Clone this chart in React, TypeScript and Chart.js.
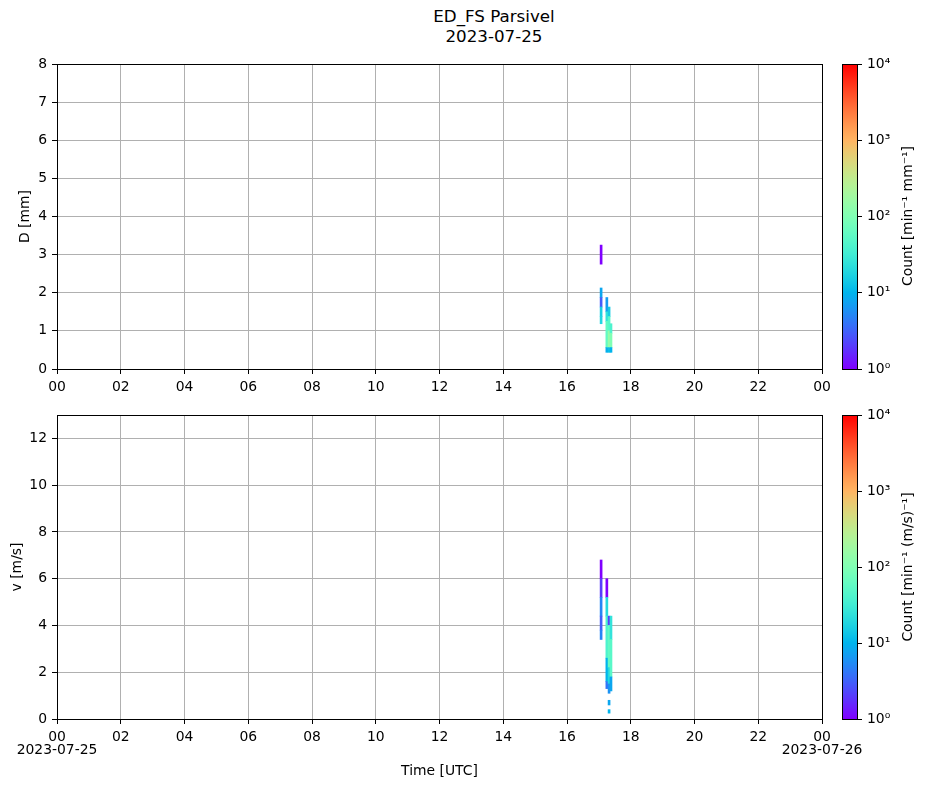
import React, { useEffect, useRef } from "react";
import { Chart, registerables } from "chart.js";

Chart.register(...registerables);

// ---- tick labels / titles ----
const xTickLabels = ["00", "02", "04", "06", "08", "10", "12", "14", "16", "18", "20", "22", "00"];
const dateLabels = ["2023-07-25", "2023-07-26"];
const suptitleLines = ["ED_FS Parsivel", "2023-07-25"];
const colorbarTicks = [1, 10, 100, 1000, 10000];

// ---- diameter panel cells (time [h UTC], bin low, bin high [mm], count) ----
const dTimes = [17.07, 17.07, 17.07, 17.07, 17.07, 17.25, 17.25, 17.25, 17.25, 17.32, 17.32, 17.32, 17.32, 17.38, 17.38, 17.38];
const dLow = [2.75, 1.875, 1.625, 1.375, 1.1875, 1.5, 1.25, 0.5625, 0.4375, 1.375, 1.0, 0.5625, 0.4375, 0.9375, 0.5625, 0.4375];
const dHigh = [3.25, 2.125, 1.875, 1.625, 1.375, 1.875, 1.5, 1.25, 0.5625, 1.625, 1.375, 1.0, 0.5625, 1.1875, 0.9375, 0.5625];
const dCounts = [1, 8, 3, 16, 18, 7, 25, 60, 9, 15, 50, 150, 12, 40, 100, 10];

// ---- velocity panel cells (time [h UTC], bin low, bin high [m/s], count) ----
const vTimes = [17.07, 17.07, 17.07, 17.07, 17.07, 17.25, 17.25, 17.25, 17.25, 17.25, 17.32, 17.32, 17.32, 17.32, 17.32, 17.32, 17.38, 17.38, 17.38];
const vLow = [6.0, 5.2, 4.4, 3.8, 3.4, 5.2, 4.4, 2.6, 1.6, 1.3, 4.0, 2.2, 1.5, 1.1, 0.6, 0.25, 3.4, 1.8, 1.2];
const vHigh = [6.8, 6.0, 5.2, 4.4, 3.8, 6.0, 5.2, 4.4, 2.6, 1.6, 4.4, 4.0, 2.2, 1.5, 0.8, 0.4, 4.4, 3.4, 1.8];
const vCounts = [1, 2, 5, 3, 5, 1, 20, 40, 10, 4, 2, 60, 20, 6, 8, 10, 25, 50, 8];

const FONT = "'DejaVu Sans', sans-serif";
const TICK_PX = 13.9;

function rainbow(x: number): string {
  const t = Math.min(1, Math.max(0, x));
  const r = Math.min(1, Math.abs(2 * t - 0.5));
  const g = Math.max(0, Math.sin(Math.PI * t));
  const b = Math.max(0, Math.cos((Math.PI / 2) * t));
  return `rgb(${Math.round(r * 255)},${Math.round(g * 255)},${Math.round(b * 255)})`;
}

function countColor(n: number): string {
  return rainbow(Math.log10(n) / 4);
}

const framePlugin = {
  id: "frame",
  afterDraw(chart: any) {
    const { ctx, chartArea: a } = chart;
    if (!a) return;
    ctx.save();
    ctx.strokeStyle = "#000";
    ctx.lineWidth = 1;
    const l = Math.round(a.left) + 0.5;
    const t = Math.round(a.top) + 0.5;
    const w = Math.round(a.right) - Math.round(a.left);
    const h = Math.round(a.bottom) - Math.round(a.top);
    ctx.strokeRect(l, t, w, h);
    ctx.restore();
  },
};

type PanelProps = {
  times: number[];
  low: number[];
  high: number[];
  counts: number[];
  yMax: number;
  yStep: number;
  yTitle: string;
  yTitlePad: number;
  bottom: boolean;
  width: number;
  height: number;
  xAxisHeight: number;
  padRight: number;
};

function Panel(p: PanelProps) {
  const ref = useRef<HTMLCanvasElement | null>(null);
  useEffect(() => {
    if (!ref.current) return;
    const chart = new Chart(ref.current, {
      type: "bar",
      data: {
        datasets: [
          {
            data: p.times.map((t, i) => ({ x: t, y: [p.low[i], p.high[i]] })) as any,
            backgroundColor: p.counts.map(countColor),
            borderWidth: 0,
            barThickness: 2,
            grouped: false,
          } as any,
        ],
      },
      options: {
        responsive: false,
        animation: false,
        events: [],
        layout: { padding: { top: 20, right: p.padRight, left: 0, bottom: 0 } },
        plugins: { legend: { display: false }, tooltip: { enabled: false }, title: { display: false } },
        scales: {
          x: {
            type: "linear",
            min: 0,
            max: 24,
            offset: false,
            z: 1,
            grid: { offset: false, color: "#b0b0b0", lineWidth: 1, tickLength: 5, tickColor: "#000", tickWidth: 1 },
            border: { display: false },
            ticks: {
              stepSize: 2,
              autoSkip: false,
              maxRotation: 0,
              padding: 6,
              color: "#000",
              font: { family: FONT, size: TICK_PX, lineHeight: 1.0 },
              callback: (value: any) => {
                const h = Number(value);
                const label = xTickLabels[Math.round(h / 2)];
                if (p.bottom && h === 0) return [label, dateLabels[0]];
                if (p.bottom && h === 24) return [label, dateLabels[1]];
                return label;
              },
            },
            title: {
              display: p.bottom,
              text: "Time [UTC]",
              color: "#000",
              font: { family: FONT, size: TICK_PX },
              padding: { top: 0, bottom: 8.7 },
            },
            afterFit: (scale: any) => {
              scale.height = p.xAxisHeight;
            },
          } as any,
          y: {
            type: "linear",
            min: 0,
            max: p.yMax,
            z: 1,
            grid: { color: "#b0b0b0", lineWidth: 1, tickLength: 5, tickColor: "#000", tickWidth: 1 },
            border: { display: false },
            ticks: {
              stepSize: p.yStep,
              includeBounds: false,
              padding: 5,
              color: "#000",
              font: { family: FONT, size: TICK_PX },
            },
            title: {
              display: true,
              text: p.yTitle,
              color: "#000",
              font: { family: FONT, size: TICK_PX },
              padding: { top: p.yTitlePad, bottom: 0 },
            },
            afterFit: (scale: any) => {
              scale.width = 57;
            },
          } as any,
        },
      },
      plugins: [framePlugin],
    });
    return () => chart.destroy();
  }, []);
  return <canvas ref={ref} width={p.width} height={p.height} style={{ width: p.width, height: p.height, display: "block" }} />;
}

const SUP: Record<number, string> = { 0: "\u2070", 1: "\u00b9", 2: "\u00b2", 3: "\u00b3", 4: "\u2074" };

function Colorbar({ width, height }: { width: number; height: number }) {
  const ref = useRef<HTMLCanvasElement | null>(null);
  useEffect(() => {
    if (!ref.current) return;
    const chart = new Chart(ref.current, {
      type: "bar",
      data: {
        labels: [""],
        datasets: [
          {
            data: [[colorbarTicks[0], colorbarTicks[colorbarTicks.length - 1]]] as any,
            backgroundColor: (c: any) => {
              const ch = c.chart;
              const a = ch.chartArea;
              if (!a) return "rgba(0,0,0,0)";
              const g = ch.ctx.createLinearGradient(0, a.bottom, 0, a.top);
              for (let i = 0; i <= 40; i++) g.addColorStop(i / 40, rainbow(i / 40));
              return g;
            },
            borderWidth: 0,
            barPercentage: 1,
            categoryPercentage: 1,
            inflateAmount: 0,
          } as any,
        ],
      },
      options: {
        responsive: false,
        animation: false,
        events: [],
        layout: { padding: { top: 20, bottom: 20, left: 0, right: 0 } },
        plugins: { legend: { display: false }, tooltip: { enabled: false } },
        scales: {
          x: { display: false },
          y: {
            type: "logarithmic",
            position: "right",
            min: colorbarTicks[0],
            max: colorbarTicks[colorbarTicks.length - 1],
            grid: { display: true, drawOnChartArea: false, tickLength: 5, tickColor: "#000", tickWidth: 1 },
            border: { display: false },
            afterBuildTicks: (scale: any) => {
              scale.ticks = colorbarTicks.map((v) => ({ value: v }));
            },
            ticks: {
              padding: 5,
              color: "#000",
              font: { family: FONT, size: TICK_PX },
              callback: (v: any) => "10" + SUP[Math.round(Math.log10(Number(v)))],
            },
            afterFit: (scale: any) => {
              scale.width = 60;
            },
          } as any,
        },
      },
      plugins: [framePlugin],
    });
    return () => chart.destroy();
  }, []);
  return <canvas ref={ref} width={width} height={height} style={{ width, height, display: "block" }} />;
}

const textStyle: React.CSSProperties = {
  position: "absolute",
  fontFamily: FONT,
  color: "#000",
  whiteSpace: "nowrap",
};

export default function App() {
  return (
    <div style={{ position: "absolute", left: 0, top: 0, width: 927, height: 788, background: "#fff", overflow: "hidden" }}>
      <div
        style={{
          ...textStyle,
          left: 494,
          top: 6,
          transform: "translateX(-50%)",
          fontSize: 16.7,
          lineHeight: "20px",
          textAlign: "center",
        }}
      >
        {suptitleLines.map((l, i) => (
          <div key={i}>{l}</div>
        ))}
      </div>
      <div style={{ position: "absolute", left: 0, top: 44 }}>
        <Panel
          times={dTimes}
          low={dLow}
          high={dHigh}
          counts={dCounts}
          yMax={8}
          yStep={1}
          yTitle="D [mm]"
          yTitlePad={16.7}
          bottom={false}
          width={837}
          height={355}
          xAxisHeight={30}
          padRight={15}
        />
      </div>
      <div style={{ position: "absolute", left: 0, top: 395 }}>
        <Panel
          times={vTimes}
          low={vLow}
          high={vHigh}
          counts={vCounts}
          yMax={13}
          yStep={2}
          yTitle="v [m/s]"
          yTitlePad={8.7}
          bottom={true}
          width={872}
          height={393}
          xAxisHeight={69}
          padRight={50}
        />
      </div>
      <div style={{ position: "absolute", left: 842, top: 44 }}>
        <Colorbar width={75} height={345} />
      </div>
      <div style={{ position: "absolute", left: 842, top: 395 }}>
        <Colorbar width={75} height={344} />
      </div>
      <div style={{ ...textStyle, left: 907, top: 216, fontSize: TICK_PX, transform: "translate(-50%, -50%) rotate(-90deg)" }}>
        Count [min⁻¹ mm⁻¹]
      </div>
      <div style={{ ...textStyle, left: 907, top: 567, fontSize: TICK_PX, transform: "translate(-50%, -50%) rotate(-90deg)" }}>
        Count [min⁻¹ (m/s)⁻¹]
      </div>
    </div>
  );
}
